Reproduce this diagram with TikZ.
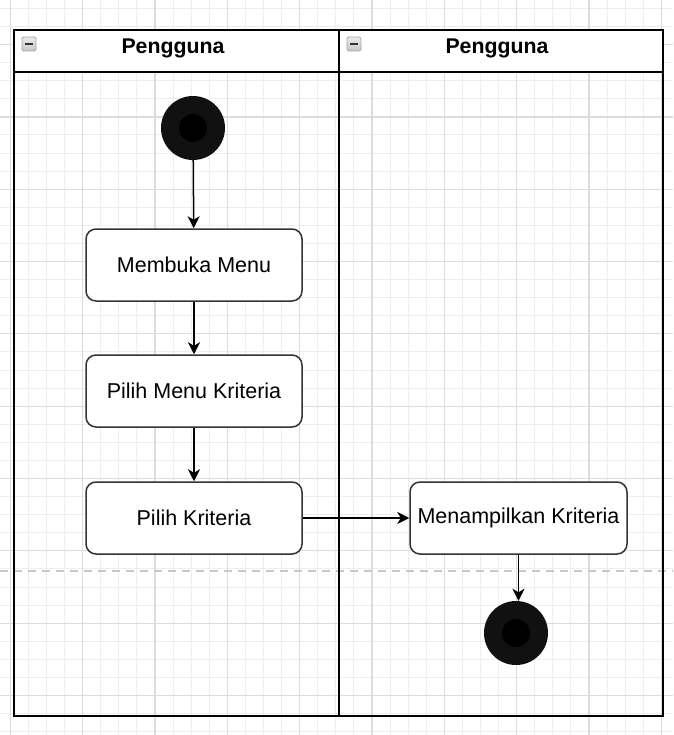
\documentclass[tikz,border=0pt]{standalone}
\usepackage{fontspec}
\setmainfont{Liberation Sans}
\usetikzlibrary{arrows.meta}
\definecolor{gridminor}{HTML}{EEEEEE}
\definecolor{gridmajor}{HTML}{DCDCDC}
\definecolor{boxline}{HTML}{333333}
\definecolor{dashgray}{HTML}{C8C8C8}
\definecolor{dotfill}{HTML}{111111}
\tikzset{
  minorline/.style={gridminor, line width=1pt},
  majorline/.style={gridmajor, line width=1.2pt},
  poolline/.style={black, line width=1.8pt},
  actbox/.style={draw=boxline, line width=1.5pt, fill=white, rounded corners=10pt,
    minimum width=216pt, minimum height=72pt, inner sep=0pt,
    font=\fontsize{21.5}{25}\selectfont},
  lanetitle/.style={font=\bfseries\fontsize{21.3}{25}\selectfont, inner sep=0pt},
  startdot/.style={circle, fill=dotfill, minimum size=64pt, inner sep=0pt},
  flow/.style={line width=1.5pt, black, -{Stealth[length=12pt, width=12pt, inset=3.5pt]}},
  foldicon/.style={draw=gray!70, line width=0.8pt, rounded corners=1.5pt,
    top color=gray!15, bottom color=gray!45},
}
\begin{document}
\begin{tikzpicture}[x=1pt, y=-1pt]
\useasboundingbox (0,0) rectangle (673,735);
\fill[white] (0,0) rectangle (673,735);

% background grid
\foreach \k in {0,...,36} {\draw[minorline] ({10.4+\k*18.08},0) -- ++(0,735);}
\foreach \k in {-2,...,38} {\draw[minorline] (0,{44.6+\k*18.08}) -- ++(673,0);}
\foreach \k in {0,...,9} {\draw[majorline] ({10.4+\k*72.32},0) -- ++(0,735);}
\foreach \k in {0,...,9} {\draw[majorline] (0,{44.6+\k*72.32}) -- ++(673,0);}

% dashed separator
\draw[dashgray, line width=1.5pt, dash pattern=on 8pt off 6pt] (0,571) -- (673,571);

% swimlane pool
\fill[white] (14,30) rectangle (663,72);
\draw[poolline] (14,30) rectangle (663,716);
\draw[poolline] (14,72) -- (663,72);
\draw[poolline] (339,30) -- (339,716);

% lane headers
\draw[foldicon] (22,37) rectangle (36,51);
\draw[boxline, line width=2pt] (25,44) -- (33,44);
\draw[foldicon] (347,37) rectangle (361,51);
\draw[boxline, line width=2pt] (350,44) -- (358,44);
\node[lanetitle] (lane1) at (173,48.5) {Pengguna};
\node[lanetitle] (lane2) at (497,48.5) {Pengguna};

% activity nodes
\node[startdot] (start) at (193,128) {};
\fill[black] (start.center) circle (14pt);
\node[actbox] (menu) at (194,265) {Membuka Menu};
\node[actbox] (pmenu) at (194,391) {Pilih Menu Kriteria};
\node[actbox] (pkrit) at (194,518) {Pilih Kriteria};
\node[actbox, minimum width=217pt] (tampil) at (518.5,518) {Menampilkan Kriteria};
\node[startdot] (fin) at (516,633) {};
\fill[black] (fin.center) circle (14pt);

% control flow
\draw[flow] (start) -- (menu);
\draw[flow] (menu) -- (pmenu);
\draw[flow] (pmenu) -- (pkrit);
\draw[flow] (pkrit) -- (tampil);
\draw[flow] (tampil.south) -- (tampil.south |- fin.north);
\end{tikzpicture}
\end{document}
